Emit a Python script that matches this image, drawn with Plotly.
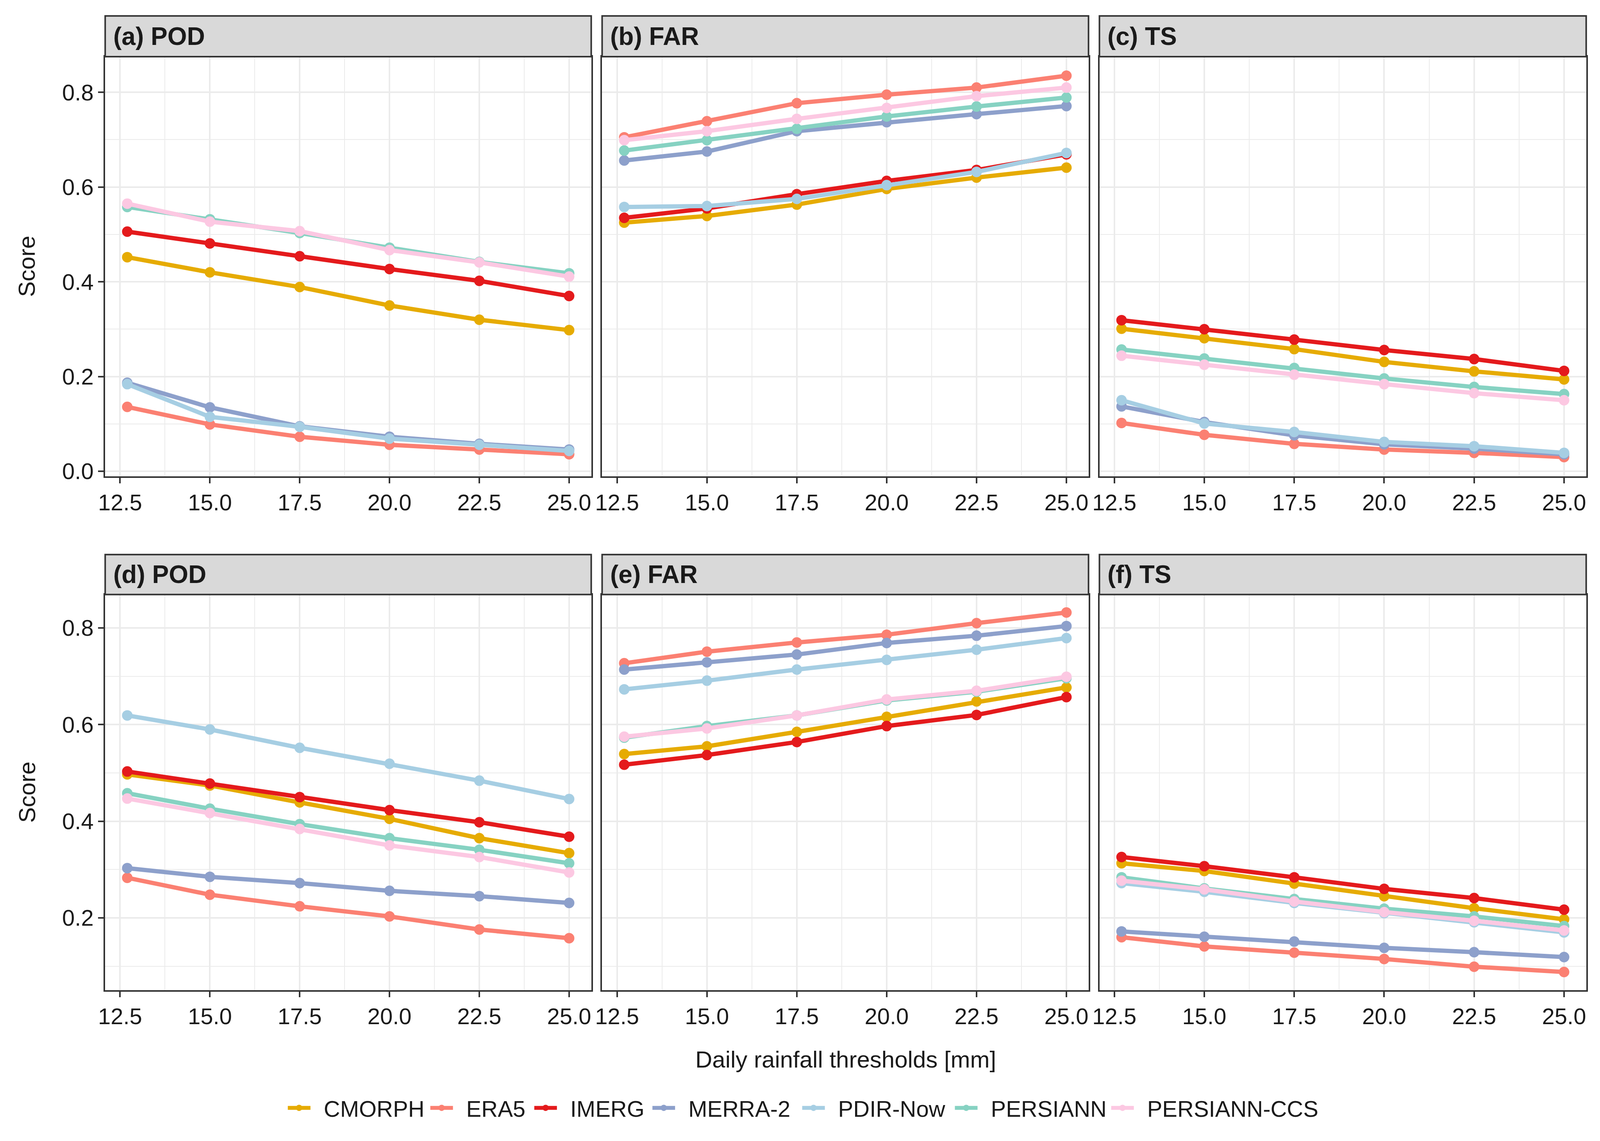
import plotly.graph_objects as go

W, H = 4382, 2920

PRODUCTS = ["CMORPH", "ERA5", "IMERG", "MERRA-2", "PDIR-Now", "PERSIANN", "PERSIANN-CCS"]
COLORS = ["#E6AB02", "#FB8072", "#E41A1C", "#8DA0CB", "#A6CEE3", "#86D2C2", "#FCC8E2"]
THRESHOLDS = [12.7, 15.0, 17.5, 20.0, 22.5, 25.0]
X_TICKS = [12.5, 15.0, 17.5, 20.0, 22.5, 25.0]
PANEL_TITLES = ["(a) POD", "(b) FAR", "(c) TS", "(d) POD", "(e) FAR", "(f) TS"]

POD_A = {
    "CMORPH": [0.452, 0.420, 0.389, 0.350, 0.320, 0.298],
    "ERA5": [0.136, 0.099, 0.073, 0.056, 0.046, 0.036],
    "IMERG": [0.506, 0.481, 0.454, 0.427, 0.402, 0.370],
    "MERRA-2": [0.187, 0.135, 0.095, 0.073, 0.058, 0.046],
    "PDIR-Now": [0.184, 0.115, 0.094, 0.069, 0.056, 0.043],
    "PERSIANN": [0.558, 0.532, 0.503, 0.472, 0.442, 0.418],
    "PERSIANN-CCS": [0.565, 0.527, 0.507, 0.467, 0.441, 0.411],
}
FAR_B = {
    "CMORPH": [0.525, 0.539, 0.563, 0.596, 0.620, 0.641],
    "ERA5": [0.705, 0.739, 0.777, 0.795, 0.810, 0.835],
    "IMERG": [0.535, 0.555, 0.585, 0.613, 0.636, 0.669],
    "MERRA-2": [0.656, 0.675, 0.718, 0.737, 0.754, 0.771],
    "PDIR-Now": [0.558, 0.560, 0.575, 0.604, 0.632, 0.672],
    "PERSIANN": [0.677, 0.699, 0.723, 0.749, 0.770, 0.789],
    "PERSIANN-CCS": [0.699, 0.718, 0.744, 0.767, 0.792, 0.810],
}
TS_C = {
    "CMORPH": [0.301, 0.281, 0.258, 0.231, 0.211, 0.194],
    "ERA5": [0.102, 0.077, 0.058, 0.046, 0.039, 0.030],
    "IMERG": [0.319, 0.300, 0.278, 0.256, 0.237, 0.212],
    "MERRA-2": [0.137, 0.104, 0.076, 0.057, 0.048, 0.036],
    "PDIR-Now": [0.150, 0.101, 0.083, 0.062, 0.053, 0.039],
    "PERSIANN": [0.257, 0.238, 0.218, 0.196, 0.178, 0.163],
    "PERSIANN-CCS": [0.244, 0.225, 0.204, 0.184, 0.165, 0.150],
}
POD_D = {
    "CMORPH": [0.497, 0.474, 0.439, 0.405, 0.365, 0.334],
    "ERA5": [0.283, 0.248, 0.224, 0.203, 0.176, 0.158],
    "IMERG": [0.503, 0.478, 0.450, 0.423, 0.398, 0.368],
    "MERRA-2": [0.303, 0.285, 0.272, 0.256, 0.245, 0.231],
    "PDIR-Now": [0.619, 0.590, 0.552, 0.519, 0.484, 0.446],
    "PERSIANN": [0.458, 0.426, 0.394, 0.365, 0.341, 0.313],
    "PERSIANN-CCS": [0.447, 0.417, 0.384, 0.350, 0.326, 0.294],
}
FAR_E = {
    "CMORPH": [0.539, 0.555, 0.585, 0.616, 0.648, 0.677],
    "ERA5": [0.727, 0.751, 0.770, 0.786, 0.810, 0.832],
    "IMERG": [0.517, 0.537, 0.564, 0.597, 0.620, 0.657],
    "MERRA-2": [0.714, 0.729, 0.745, 0.769, 0.784, 0.804],
    "PDIR-Now": [0.673, 0.691, 0.714, 0.734, 0.755, 0.779],
    "PERSIANN": [0.573, 0.597, 0.619, 0.650, 0.668, 0.696],
    "PERSIANN-CCS": [0.575, 0.592, 0.619, 0.652, 0.670, 0.699],
}
TS_F = {
    "CMORPH": [0.313, 0.297, 0.271, 0.245, 0.220, 0.197],
    "ERA5": [0.160, 0.141, 0.128, 0.115, 0.099, 0.088],
    "IMERG": [0.326, 0.307, 0.284, 0.260, 0.241, 0.217],
    "MERRA-2": [0.172, 0.161, 0.151, 0.138, 0.129, 0.119],
    "PDIR-Now": [0.272, 0.254, 0.231, 0.210, 0.191, 0.170],
    "PERSIANN": [0.284, 0.261, 0.239, 0.219, 0.203, 0.183],
    "PERSIANN-CCS": [0.277, 0.259, 0.234, 0.212, 0.194, 0.174],
}
PANELS = [POD_A, FAR_B, TS_C, POD_D, FAR_E, TS_F]

# layout in pixels of a 4382 x 2920 canvas (used as paper fractions)
COL_X = [(270, 1607), (1637, 2975), (3005, 4344)]
ROW_Y = [  # (strip_top, plot_top, plot_bottom)
    (41, 146, 1227),
    (1429, 1532, 2551),
]
LEGEND_TEXT_X = [882, 1274, 1560, 1885, 2297, 2717, 3147]
LEGEND_Y = 2855

FONT = "Liberation Sans, Arial, Helvetica, sans-serif"
TXT = "#1a1a1a"
BORDER = "#333333"
GRID = "#EBEBEB"
ITEMW = 58
LEG_OFFSET = 115
LEG_PAD = "\u2002"


def px_x(v):
    return v / W


def px_y(v):
    return 1 - v / H


def expanded(vals, frac=0.05):
    lo, hi = min(vals), max(vals)
    d = (hi - lo) * frac
    return [lo - d, hi + d]


x_range = expanded(THRESHOLDS)
row_ranges = []
for r in range(2):
    vals = []
    for p in PANELS[3 * r:3 * r + 3]:
        for k in PRODUCTS:
            vals += p[k]
    row_ranges.append(expanded(vals))

fig = go.Figure()
shapes = []
annotations = []
legends = {}

for i, panel in enumerate(PANELS):
    r, c = divmod(i, 3)
    n = i + 1
    xa = f"x{n}" if n > 1 else "x"
    ya = f"y{n}" if n > 1 else "y"
    for k, prod in enumerate(PRODUCTS):
        lname = "legend" if k == 0 else f"legend{k + 1}"
        fig.add_trace(go.Scatter(
            x=THRESHOLDS, y=panel[prod], mode="lines+markers", name=LEG_PAD + prod,
            line=dict(color=COLORS[k], width=11),
            marker=dict(color=COLORS[k], size=27),
            xaxis=xa, yaxis=ya, showlegend=(i == 0), legendgroup=prod,
            legend=lname,
        ))
    x0, x1 = COL_X[c]
    st, pt, pb = ROW_Y[r]
    key = "" if n == 1 else str(n)
    fig.layout["xaxis" + key] = dict(
        domain=[px_x(x0), px_x(x1)], anchor=ya, range=x_range,
        tickvals=X_TICKS, ticktext=[f"{v:.1f}" for v in X_TICKS],
        showgrid=True, gridcolor=GRID, gridwidth=3.5,
        minor=dict(dtick=1.25, tick0=12.5, showgrid=True, gridcolor=GRID, gridwidth=2.2),
        showline=True, mirror=True, linecolor=BORDER, linewidth=4,
        ticks="outside", ticklen=14, tickwidth=4, tickcolor=BORDER,
        tickfont=dict(family=FONT, size=58, color=TXT), zeroline=False,
    )
    fig.layout["yaxis" + key] = dict(
        domain=[px_y(pb), px_y(pt)], anchor=xa, range=row_ranges[r],
        dtick=0.2, tick0=0, tickformat=".1f",
        showgrid=True, gridcolor=GRID, gridwidth=3.5,
        minor=dict(dtick=0.1, tick0=0, showgrid=True, gridcolor=GRID, gridwidth=2.2),
        showline=True, mirror=True, linecolor=BORDER, linewidth=4,
        ticks="outside" if c == 0 else "", ticklen=14, tickwidth=4, tickcolor=BORDER,
        showticklabels=(c == 0),
        tickfont=dict(family=FONT, size=58, color=TXT), zeroline=False,
    )
    shapes.append(dict(type="rect", xref="paper", yref="paper",
                       x0=px_x(x0), x1=px_x(x1), y0=px_y(pt), y1=px_y(st),
                       fillcolor="#D9D9D9", line=dict(color=BORDER, width=4)))
    annotations.append(dict(xref="paper", yref="paper", x=px_x(x0 + 20), y=px_y((st + pt) / 2),
                            xanchor="left", yanchor="middle", showarrow=False,
                            text=f"<b>{PANEL_TITLES[i]}</b>",
                            font=dict(family=FONT, size=64, color=TXT)))

for r in range(2):
    st, pt, pb = ROW_Y[r]
    annotations.append(dict(xref="paper", yref="paper", x=px_x(55), y=px_y((pt + pb) / 2),
                            xanchor="center", yanchor="middle", showarrow=False,
                            text="Score", textangle=-90,
                            font=dict(family=FONT, size=60, color=TXT)))

annotations.append(dict(xref="paper", yref="paper", x=px_x(2307), y=px_y(2730),
                        xanchor="center", yanchor="middle", showarrow=False,
                        text="Daily rainfall thresholds [mm]",
                        font=dict(family=FONT, size=60, color=TXT)))

for k in range(len(PRODUCTS)):
    lname = "legend" if k == 0 else f"legend{k + 1}"
    legends[lname] = dict(
        orientation="h", x=px_x(LEGEND_TEXT_X[k] - LEG_OFFSET), xanchor="left",
        y=px_y(LEGEND_Y), yanchor="middle",
        font=dict(family=FONT, size=58, color=TXT), itemwidth=ITEMW,
        bgcolor="rgba(0,0,0,0)", borderwidth=0,
    )

fig.update_layout(
    width=W, height=H, margin=dict(l=0, r=0, t=0, b=0),
    paper_bgcolor="white", plot_bgcolor="white",
    shapes=shapes, annotations=annotations, **legends,
)

POST = """
document.body.style.margin = '0';
document.body.style.overflow = 'hidden';
var gd = document.getElementById('{plot_id}');
Plotly.relayout(gd, {width: window.innerWidth, height: window.innerHeight});
"""

fig.write_html("out.html", post_script=POST, config={"displayModeBar": False})
